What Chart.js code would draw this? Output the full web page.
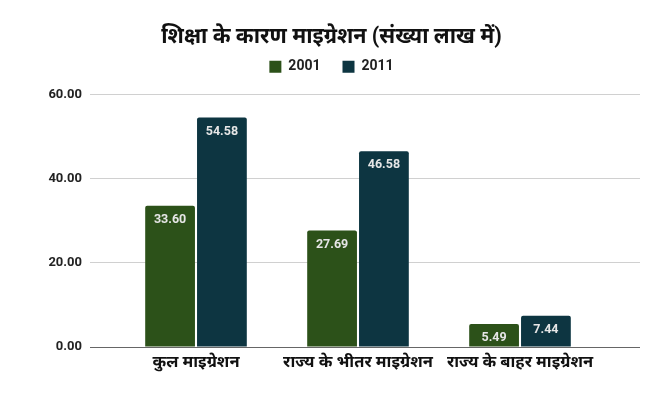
<!DOCTYPE html>
<html>
<head>
<meta charset="utf-8">
<script src="https://cdn.jsdelivr.net/npm/chart.js@4"></script>
<style>
  html, body { margin: 0; padding: 0; background: #fff; }
  #wrap { width: 651px; height: 393px; }
</style>
</head>
<body>
<div id="wrap"><canvas id="chart" width="651" height="393"></canvas></div>
<script>
// Categories and series values
const categories = ['कुल माइग्रेशन', 'राज्य के भीतर माइग्रेशन', 'राज्य के बाहर माइग्रेशन'];
const years = ['2001', '2011'];
const values2001 = [33.60, 27.69, 5.49];
const values2011 = [54.58, 46.58, 7.44];
const yTicks = [0, 20, 40, 60];

const chartTitle = 'शिक्षा के कारण माइग्रेशन (संख्या लाख में)';
const fontFamily = "Roboto, 'Noto Sans', 'Noto Sans Devanagari', sans-serif";

const gridColor = (ctx) => (ctx.tick && ctx.tick.value === 0) ? '#666666' : '#d0d0d0';

// Draw value labels just inside the top of each bar
const barLabels = {
    id: 'barLabels',
    afterDatasetsDraw(chart) {
        const ctx = chart.ctx;
        ctx.save();
        ctx.font = 'bold 12.5px ' + fontFamily;
        ctx.fillStyle = '#e6e6e6';
        ctx.textAlign = 'center';
        ctx.textBaseline = 'middle';
        chart.data.datasets.forEach((ds, i) => {
            chart.getDatasetMeta(i).data.forEach((bar, j) => {
                ctx.fillText(ds.data[j].toFixed(2), bar.x, bar.y + 14);
            });
        });
        ctx.restore();
    }
};

new Chart(document.getElementById('chart').getContext('2d'), {
    type: 'bar',
    data: {
        labels: categories,
        datasets: [
            {
                label: years[0],
                data: values2001,
                backgroundColor: '#2c5119',
                borderRadius: 2,
                borderSkipped: 'bottom',
                categoryPercentage: 0.64,
                barPercentage: 0.96
            },
            {
                label: years[1],
                data: values2011,
                backgroundColor: '#0d3541',
                borderRadius: 2,
                borderSkipped: 'bottom',
                categoryPercentage: 0.64,
                barPercentage: 0.96
            }
        ]
    },
    options: {
        responsive: false,
        animation: false,
        layout: { padding: { top: 9, right: 0, bottom: 0, left: 12 } },
        scales: {
            x: {
                grid: { display: false, drawTicks: false },
                border: { display: false },
                ticks: {
                    color: '#111',
                    padding: 6,
                    font: { family: fontFamily, size: 16.5, weight: 'bold' }
                },
                afterFit(scale) { scale.height = 46; }
            },
            // empty top axis, only used as a spacer below the legend
            xTop: {
                type: 'category',
                position: 'top',
                labels: categories,
                grid: { display: false, drawTicks: false },
                border: { display: false },
                ticks: { display: false },
                afterFit(scale) { scale.height = 11; }
            },
            y: {
                min: 0,
                max: 60,
                afterBuildTicks(scale) { scale.ticks = yTicks.map(v => ({ value: v })); },
                grid: { color: gridColor, tickLength: 25, tickColor: gridColor },
                border: { display: false },
                ticks: {
                    color: '#222',
                    padding: 8,
                    font: { family: fontFamily, size: 13, weight: 'bold' },
                    callback: (v) => Number(v).toFixed(2)
                },
                afterFit(scale) { scale.width = 103; }
            },
            y2: {
                position: 'right',
                min: 0,
                max: 60,
                afterBuildTicks(scale) { scale.ticks = yTicks.map(v => ({ value: v })); },
                grid: { color: gridColor, drawOnChartArea: false, tickLength: 39, tickColor: gridColor },
                border: { display: false },
                ticks: { display: false },
                afterFit(scale) { scale.width = 50; }
            }
        },
        plugins: {
            title: {
                display: true,
                text: chartTitle,
                color: '#111',
                font: { family: fontFamily, size: 21.5, weight: 'bold' },
                padding: { top: 16, bottom: -13 }
            },
            legend: {
                display: true,
                labels: {
                    color: '#222',
                    boxWidth: 12,
                    boxHeight: 12,
                    padding: 22,
                    font: { family: fontFamily, size: 14, weight: 'bold' }
                }
            },
            tooltip: { enabled: false }
        }
    },
    plugins: [barLabels]
});
</script>
</body>
</html>
